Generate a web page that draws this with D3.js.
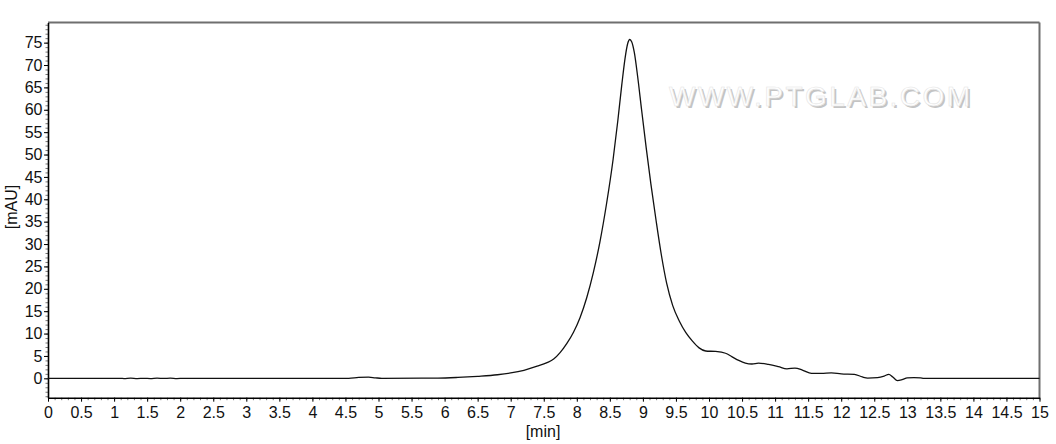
<!DOCTYPE html>
<html>
<head>
<meta charset="utf-8">
<script src="https://cdn.jsdelivr.net/npm/d3@7"></script>
<style>
  body { margin: 0; background: #fff; }
  text { font-family: "Liberation Sans", Arial, sans-serif; }
</style>
</head>
<body>
<script>
// chromatogram trace
var times = [0, 1.1, 1.15, 1.25, 1.35, 1.45, 1.55, 1.65, 1.75, 1.85, 1.95, 2.05,
  4.55, 4.7, 4.85, 4.95, 5.05, 5.9, 6.2, 6.5, 6.8, 7.0, 7.2, 7.4, 7.55, 7.65,
  7.75, 7.85, 7.95, 8.05, 8.15, 8.25, 8.35, 8.45, 8.55, 8.62, 8.68, 8.73, 8.77,
  8.8, 8.83, 8.87, 8.92, 8.98, 9.05, 9.12, 9.2, 9.28, 9.36, 9.45, 9.55, 9.65,
  9.75, 9.85, 9.95, 10.1, 10.25, 10.35, 10.45, 10.55, 10.65, 10.75, 10.9, 11.05,
  11.18, 11.3, 11.42, 11.55, 11.7, 11.85, 12.0, 12.2, 12.32, 12.4, 12.55, 12.65,
  12.72, 12.78, 12.85, 12.92, 13.0, 13.1, 13.2, 13.25, 15]
var mau = [0, 0, -0.06, 0.03, -0.05, 0, -0.06, 0.03, -0.03, 0.03, -0.06, 0,
  0, 0.2, 0.25, 0.12, 0, 0.05, 0.2, 0.45, 0.8, 1.2, 1.8, 2.7, 3.5, 4.3,
  5.8, 7.8, 10.3, 13.6, 18.0, 23.6, 30.5, 39.0, 49.0, 57.5, 65.5, 71.5, 74.8,
  75.7, 75.2, 72.8, 67.5, 60, 51.5, 43.5, 35.2, 27.5, 21.2, 16.3, 12.8, 10.2,
  8.3, 6.8, 6.1, 6.0, 5.6, 4.8, 4.0, 3.4, 3.2, 3.4, 3.1, 2.6,
  2.1, 2.3, 1.8, 1.1, 1.1, 1.2, 1.0, 0.9, 0.3, 0.05, 0.15, 0.5,
  0.9, 0.3, -0.5, -0.3, 0.1, 0.15, 0.1, 0, 0]

var xTicks = d3.range(0, 15.01, 0.5)
var yTicks = d3.range(0, 76, 5)
var xMinor = d3.range(0, 15.01, 0.1)
var yMinor = d3.range(-4, 80, 1)

var width = 1056, height = 444
var mLeft = 48, mRight = 1039.5, mTop = 22.5, mBottom = 397.7

var svg = d3.select("body").append("svg")
    .attr("width", width)
    .attr("height", height)

var x = d3.scaleLinear([0, 15], [mLeft, mRight])
var y = d3.scaleLinear([-4.33, 79.5], [mBottom, mTop])

// watermark (embossed look)
var wm = svg.append("g")
wm.append("text")
    .attr("x", 671).attr("y", 108)
    .attr("textLength", 301)
    .attr("font-size", 28)
    .attr("fill", "#c4c4c4")
    .text("WWW.PTGLAB.COM")
wm.append("text")
    .attr("x", 669).attr("y", 106)
    .attr("textLength", 301)
    .attr("font-size", 28)
    .attr("fill", "#fff")
    .attr("stroke", "#e4e4e4")
    .attr("stroke-width", 0.6)
    .text("WWW.PTGLAB.COM")

// frame top / right
svg.append("line")
    .attr("x1", mLeft).attr("x2", mRight).attr("y1", mTop).attr("y2", mTop)
    .attr("stroke", "#6f6f6f").attr("stroke-width", 2)
svg.append("line")
    .attr("x1", mRight).attr("x2", mRight).attr("y1", mTop).attr("y2", mBottom)
    .attr("stroke", "#6f6f6f").attr("stroke-width", 2)

// minor ticks
svg.append("g")
    .attr("transform", `translate(0,${mBottom})`)
    .call(d3.axisBottom(x).tickValues(xMinor).tickSize(2.5).tickFormat(""))
    .call(g => g.select(".domain").remove())
    .selectAll("line").attr("stroke", "#777")
svg.append("g")
    .attr("transform", `translate(${mLeft},0)`)
    .call(d3.axisLeft(y).tickValues(yMinor).tickSize(2.5).tickFormat(""))
    .call(g => g.select(".domain").remove())
    .selectAll("line").attr("stroke", "#777")

// major axes
var xAxis = svg.append("g")
    .attr("transform", `translate(0,${mBottom})`)
    .call(d3.axisBottom(x).tickValues(xTicks).tickSize(4).tickSizeOuter(0)
        .tickPadding(5).tickFormat(d => String(d)))
var yAxis = svg.append("g")
    .attr("transform", `translate(${mLeft},0)`)
    .call(d3.axisLeft(y).tickValues(yTicks).tickSize(4).tickSizeOuter(0)
        .tickPadding(1.5).tickFormat(d => String(d)))

;[xAxis, yAxis].forEach(function(g) {
    g.select(".domain").attr("stroke", "#000").attr("stroke-width", 1.6)
    g.selectAll("text").attr("font-size", 16).attr("fill", "#111")
        .attr("font-family", "Liberation Sans, Arial, sans-serif")
})

// axis titles
svg.append("text")
    .attr("x", 543).attr("y", 437)
    .attr("text-anchor", "middle")
    .attr("font-size", 16)
    .attr("fill", "#111")
    .text("[min]")
svg.append("text")
    .attr("transform", "translate(17,207) rotate(-90)")
    .attr("text-anchor", "middle")
    .attr("font-size", 16)
    .attr("fill", "#111")
    .text("[mAU]")

// trace
var line = d3.line()
    .x(i => x(times[i]))
    .y(i => y(mau[i]))
    .curve(d3.curveMonotoneX)

svg.append("path")
    .attr("d", line(d3.range(times.length)))
    .attr("fill", "none")
    .attr("stroke", "#111")
    .attr("stroke-width", 1.3)
</script>
</body>
</html>
